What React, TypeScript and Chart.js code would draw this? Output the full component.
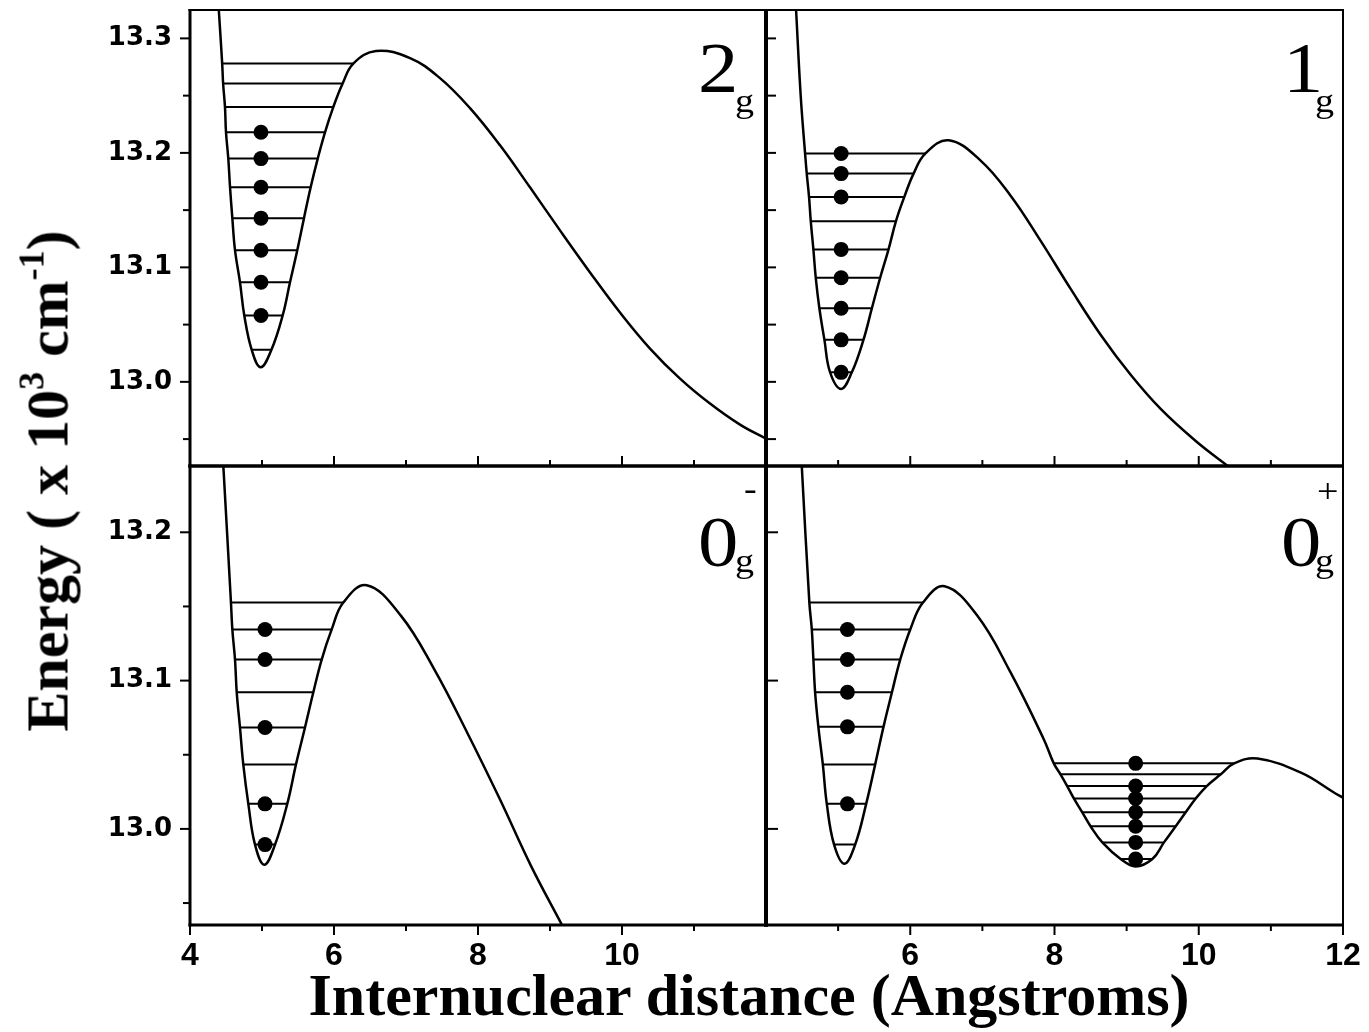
import React, { useEffect, useRef } from 'react';
import { Chart, registerables } from 'chart.js';

Chart.register(...registerables);

const PAGE_W = 1369;
const PAGE_H = 1032;

// ---------- axes ----------
const X_RANGE = [4, 12];
const Y_RANGE_TOP = [12.9265, 13.3248];
const Y_RANGE_BOTTOM = [12.9352, 13.2447];

const Y_TICKS_TOP = [13.0, 13.1, 13.2, 13.3];
const Y_TICKS_BOTTOM = [13.0, 13.1, 13.2];
const Y_MINOR_TOP = [12.95, 13.05, 13.15, 13.25];
const Y_MINOR_BOTTOM = [12.95, 13.05, 13.15];
const X_TICKS_LEFT = [4, 6, 8, 10];
const X_TICKS_RIGHT = [6, 8, 10, 12];
const X_MAJOR_INNER = [6, 8, 10];
const X_MINOR = [5, 7, 9, 11];

// ---------- panel 2g ----------
const CURVE_2G_X = [4.40, 4.447, 4.46, 4.486, 4.50, 4.532, 4.556, 4.588, 4.625, 4.694, 4.754, 4.857, 4.982, 5.131, 5.287, 5.389, 5.49, 5.583, 5.676, 5.774, 5.875, 5.99, 6.12, 6.268, 6.583, 7.056, 7.472, 7.889, 8.306, 8.722, 9.139, 9.556, 9.972, 10.389, 10.806, 11.222, 11.639, 12.0];
const CURVE_2G_Y = [13.3248, 13.278, 13.2606, 13.240, 13.218, 13.195, 13.170, 13.143, 13.115, 13.087, 13.058, 13.028, 13.0127, 13.028, 13.058, 13.087, 13.115, 13.143, 13.170, 13.195, 13.218, 13.240, 13.2606, 13.278, 13.289, 13.2828, 13.2653, 13.2391, 13.2066, 13.1699, 13.1323, 13.0956, 13.0606, 13.0291, 13.0028, 12.9810, 12.9626, 12.9503];
const LEVELS_2G_Y = [13.278, 13.2606, 13.240, 13.218, 13.195, 13.170, 13.143, 13.115, 13.087, 13.058, 13.028];
const LEVELS_2G_XL = [4.447, 4.46, 4.486, 4.50, 4.532, 4.556, 4.588, 4.625, 4.694, 4.754, 4.857];
const LEVELS_2G_XR = [6.268, 6.12, 5.99, 5.875, 5.774, 5.676, 5.583, 5.49, 5.389, 5.287, 5.131];
const DOTS_2G_X = [4.986, 4.986, 4.986, 4.986, 4.986, 4.986, 4.986];
const DOTS_2G_Y = [13.218, 13.195, 13.170, 13.143, 13.115, 13.087, 13.058];

// ---------- panel 1g ----------
const CURVE_1G_X = [4.417, 4.482, 4.542, 4.565, 4.597, 4.621, 4.657, 4.69, 4.74, 4.81, 4.889, 5.042, 5.19, 5.351, 5.468, 5.583, 5.699, 5.801, 5.917, 6.046, 6.208, 6.532, 6.972, 7.389, 7.806, 8.222, 8.639, 9.056, 9.472, 9.958, 10.417];
const CURVE_1G_Y = [13.3248, 13.249, 13.1994, 13.1819, 13.1614, 13.1402, 13.1157, 13.0909, 13.0643, 13.0367, 13.0083, 12.9938, 13.0083, 13.0367, 13.0643, 13.0909, 13.1157, 13.1402, 13.1614, 13.1819, 13.1994, 13.211, 13.1935, 13.1628, 13.1234, 13.0814, 13.0412, 13.0062, 12.9764, 12.9484, 12.9258];
const LEVELS_1G_Y = [13.1994, 13.1819, 13.1614, 13.1402, 13.1157, 13.0909, 13.0643, 13.0367, 13.0083];
const LEVELS_1G_XL = [4.542, 4.565, 4.597, 4.621, 4.657, 4.69, 4.74, 4.81, 4.889];
const LEVELS_1G_XR = [6.208, 6.046, 5.917, 5.801, 5.699, 5.583, 5.468, 5.351, 5.19];
const DOTS_1G_X = [5.042, 5.042, 5.042, 5.042, 5.042, 5.042, 5.042, 5.042];
const DOTS_1G_Y = [13.1994, 13.1819, 13.1614, 13.1157, 13.0909, 13.0643, 13.0367, 13.0083];

// ---------- panel 0g- ----------
const CURVE_0GM_X = [4.463, 4.569, 4.588, 4.625, 4.649, 4.694, 4.74, 4.81, 4.903, 5.032, 5.181, 5.351, 5.472, 5.597, 5.713, 5.829, 5.968, 6.129, 6.454, 6.926, 7.389, 7.847, 8.306, 8.736, 9.167];
const CURVE_0GM_Y = [13.2447, 13.1526, 13.1345, 13.1142, 13.0921, 13.0684, 13.0435, 13.0169, 12.9894, 12.9758, 12.9894, 13.0169, 13.0435, 13.0684, 13.0921, 13.1142, 13.1345, 13.1526, 13.1643, 13.144, 13.1079, 13.0652, 13.0198, 12.9751, 12.9352];
const LEVELS_0GM_Y = [13.1526, 13.1345, 13.1142, 13.0921, 13.0684, 13.0435, 13.0169, 12.9894];
const LEVELS_0GM_XL = [4.569, 4.588, 4.625, 4.649, 4.694, 4.74, 4.81, 4.903];
const LEVELS_0GM_XR = [6.129, 5.968, 5.829, 5.713, 5.597, 5.472, 5.351, 5.181];
const DOTS_0GM_X = [5.042, 5.042, 5.042, 5.042, 5.042];
const DOTS_0GM_Y = [13.1345, 13.1142, 13.0684, 13.0169, 12.9894];

// ---------- panel 0g+ ----------
const CURVE_0GP_X = [4.496, 4.601, 4.635, 4.657, 4.681, 4.726, 4.788, 4.843, 4.944, 5.0875, 5.236, 5.389, 5.514, 5.629, 5.746, 5.861, 6.0, 6.176, 6.476, 6.926, 7.389, 7.851, 7.99, 8.083, 8.176, 8.268, 8.385, 8.5, 8.663, 8.917, 9.125, 9.357, 9.518, 9.681, 9.819, 9.958, 10.111, 10.306, 10.49, 10.815, 11.417, 11.879, 12.0];
const CURVE_0GP_Y = [13.2447, 13.1526, 13.1345, 13.1142, 13.0921, 13.0688, 13.0435, 13.0169, 12.9894, 12.9765, 12.9894, 13.0169, 13.0435, 13.0688, 13.0921, 13.1142, 13.1345, 13.1526, 13.1636, 13.144, 13.1057, 13.0605, 13.0442, 13.0368, 13.0289, 13.0205, 13.0112, 13.0018, 12.9909, 12.9797, 12.9747, 12.9797, 12.9909, 13.0018, 13.0112, 13.0205, 13.0289, 13.0368, 13.0442, 13.0474, 13.0379, 13.0244, 13.021];
const LEVELS_0GP_Y = [13.1526, 13.1345, 13.1142, 13.0921, 13.0688, 13.0435, 13.0169, 12.9894];
const LEVELS_0GP_XL = [4.601, 4.635, 4.657, 4.681, 4.726, 4.788, 4.843, 4.944];
const LEVELS_0GP_XR = [6.176, 6.0, 5.861, 5.746, 5.629, 5.514, 5.389, 5.236];
const DOTS_0GP_X = [5.129, 5.129, 5.129, 5.129, 5.129];
const DOTS_0GP_Y = [13.1345, 13.1142, 13.0921, 13.0688, 13.0169];
const LEVELS_0GP2_Y = [13.0442, 13.0368, 13.0289, 13.0205, 13.0112, 13.0018, 12.9909, 12.9797];
const LEVELS_0GP2_XL = [7.99, 8.083, 8.176, 8.268, 8.385, 8.5, 8.663, 8.917];
const LEVELS_0GP2_XR = [10.49, 10.306, 10.111, 9.958, 9.819, 9.681, 9.518, 9.357];
const DOTS_0GP2_X = [9.125, 9.125, 9.125, 9.125, 9.125, 9.125, 9.125];
const DOTS_0GP2_Y = [13.0442, 13.0289, 13.0205, 13.0112, 13.0018, 12.9909, 12.9797];

// ---------- layout ----------
type Area = { left: number; top: number; right: number; bottom: number };
type TickSpec = { side: 'left' | 'bottom'; dir: 'in' | 'out'; values: number[]; len: number };
type LevelSet = { y: number[]; xl: number[]; xr: number[] };
type DotSet = { x: number[]; y: number[] };
type PanelSpec = {
  area: Area;
  yRange: number[];
  yTicks?: number[];
  xTicks?: number[];
  edges: { left: number; right: number; top: number; bottom: number };
  ticks: TickSpec[];
  curveX: number[];
  curveY: number[];
  levels: LevelSet[];
  dots: DotSet[];
};

const X_AXIS_H = 60;
const COL_L = 190, COL_M = 766, COL_R = 1343;
const ROW_T = 10, ROW_M = 466, ROW_B = 925;

const PANELS: PanelSpec[] = [
  {
    area: { left: COL_L, top: ROW_T, right: COL_M, bottom: ROW_M },
    yRange: Y_RANGE_TOP, yTicks: Y_TICKS_TOP,
    edges: { left: 3, right: 4, top: 2, bottom: 3 },
    ticks: [
      { side: 'left', dir: 'out', values: Y_TICKS_TOP, len: 10 },
      { side: 'left', dir: 'out', values: Y_MINOR_TOP, len: 7 },
      { side: 'bottom', dir: 'in', values: X_MAJOR_INNER, len: 10 },
      { side: 'bottom', dir: 'in', values: X_MINOR, len: 6 },
    ],
    curveX: CURVE_2G_X, curveY: CURVE_2G_Y,
    levels: [{ y: LEVELS_2G_Y, xl: LEVELS_2G_XL, xr: LEVELS_2G_XR }],
    dots: [{ x: DOTS_2G_X, y: DOTS_2G_Y }],
  },
  {
    area: { left: COL_M, top: ROW_T, right: COL_R, bottom: ROW_M },
    yRange: Y_RANGE_TOP,
    edges: { left: 4, right: 2, top: 2, bottom: 3 },
    ticks: [
      { side: 'left', dir: 'in', values: Y_TICKS_TOP, len: 10 },
      { side: 'left', dir: 'in', values: Y_MINOR_TOP, len: 10 },
      { side: 'bottom', dir: 'in', values: X_MAJOR_INNER, len: 10 },
      { side: 'bottom', dir: 'in', values: X_MINOR, len: 6 },
    ],
    curveX: CURVE_1G_X, curveY: CURVE_1G_Y,
    levels: [{ y: LEVELS_1G_Y, xl: LEVELS_1G_XL, xr: LEVELS_1G_XR }],
    dots: [{ x: DOTS_1G_X, y: DOTS_1G_Y }],
  },
  {
    area: { left: COL_L, top: ROW_M, right: COL_M, bottom: ROW_B },
    yRange: Y_RANGE_BOTTOM, yTicks: Y_TICKS_BOTTOM, xTicks: X_TICKS_LEFT,
    edges: { left: 3, right: 4, top: 3, bottom: 3 },
    ticks: [
      { side: 'left', dir: 'out', values: Y_TICKS_BOTTOM, len: 10 },
      { side: 'left', dir: 'out', values: Y_MINOR_BOTTOM, len: 7 },
      { side: 'bottom', dir: 'out', values: X_TICKS_LEFT, len: 10 },
      { side: 'bottom', dir: 'out', values: X_MINOR, len: 6 },
    ],
    curveX: CURVE_0GM_X, curveY: CURVE_0GM_Y,
    levels: [{ y: LEVELS_0GM_Y, xl: LEVELS_0GM_XL, xr: LEVELS_0GM_XR }],
    dots: [{ x: DOTS_0GM_X, y: DOTS_0GM_Y }],
  },
  {
    area: { left: COL_M, top: ROW_M, right: COL_R, bottom: ROW_B },
    yRange: Y_RANGE_BOTTOM, xTicks: X_TICKS_RIGHT,
    edges: { left: 4, right: 2, top: 3, bottom: 3 },
    ticks: [
      { side: 'left', dir: 'in', values: Y_TICKS_BOTTOM, len: 12 },
      { side: 'bottom', dir: 'out', values: X_TICKS_RIGHT, len: 10 },
      { side: 'bottom', dir: 'out', values: X_MINOR, len: 6 },
    ],
    curveX: CURVE_0GP_X, curveY: CURVE_0GP_Y,
    levels: [
      { y: LEVELS_0GP_Y, xl: LEVELS_0GP_XL, xr: LEVELS_0GP_XR },
      { y: LEVELS_0GP2_Y, xl: LEVELS_0GP2_XL, xr: LEVELS_0GP2_XR },
    ],
    dots: [
      { x: DOTS_0GP_X, y: DOTS_0GP_Y },
      { x: DOTS_0GP2_X, y: DOTS_0GP2_Y },
    ],
  },
];

function makeFramePlugin(p: PanelSpec) {
  return {
    id: 'frame',
    afterDatasetsDraw(chart: any) {
      const { ctx, chartArea: a, scales } = chart;
      const xs = scales.x, ys = scales.y;
      ctx.save();
      ctx.strokeStyle = '#000';
      ctx.lineCap = 'butt';
      const e = p.edges;
      const line = (x1: number, y1: number, x2: number, y2: number, w: number) => {
        if (!w) return;
        ctx.lineWidth = w;
        ctx.beginPath();
        ctx.moveTo(x1, y1);
        ctx.lineTo(x2, y2);
        ctx.stroke();
      };
      line(a.left, a.top - e.top / 2, a.left, a.bottom + e.bottom / 2, e.left);
      line(a.right, a.top - e.top / 2, a.right, a.bottom + e.bottom / 2, e.right);
      line(a.left - e.left / 2, a.top, a.right + e.right / 2, a.top, e.top);
      line(a.left - e.left / 2, a.bottom, a.right + e.right / 2, a.bottom, e.bottom);
      for (const t of p.ticks) {
        for (const v of t.values) {
          if (t.side === 'left') {
            const py = ys.getPixelForValue(v);
            if (t.dir === 'out') line(a.left - t.len, py, a.left, py, 2);
            else line(a.left, py, a.left + t.len, py, 2);
          } else {
            const px = xs.getPixelForValue(v);
            if (t.dir === 'out') line(px, a.bottom, px, a.bottom + t.len, 2);
            else line(px, a.bottom, px, a.bottom - t.len, 2);
          }
        }
      }
      ctx.restore();
    },
  };
}

function buildConfig(p: PanelSpec): any {
  const showY = !!p.yTicks;
  const showX = !!p.xTicks;
  const datasets: any[] = [];
  p.dots.forEach((d) => {
    datasets.push({
      type: 'line',
      data: d.x.map((x, i) => ({ x, y: d.y[i] })),
      showLine: false,
      pointRadius: 7.5,
      pointHoverRadius: 7.5,
      pointBorderWidth: 0,
      pointBackgroundColor: '#000',
      borderColor: '#000',
      backgroundColor: '#000',
    });
  });
  p.levels.forEach((l) => {
    const data: any[] = [];
    l.y.forEach((y, i) => {
      data.push({ x: l.xl[i], y }, { x: l.xr[i], y }, { x: l.xr[i], y: null });
    });
    datasets.push({
      type: 'line',
      data,
      borderColor: '#000',
      borderWidth: 2,
      pointRadius: 0,
      tension: 0,
      spanGaps: false,
      fill: false,
    });
  });
  datasets.push({
    type: 'line',
    data: p.curveX.map((x, i) => ({ x, y: p.curveY[i] })),
    borderColor: '#000',
    borderWidth: 2.5,
    pointRadius: 0,
    tension: 0.4,
    fill: false,
  });

  const noPad = (s: any) => {
    s.paddingTop = 0;
    s.paddingBottom = 0;
    s.paddingLeft = 0;
    s.paddingRight = 0;
  };

  return {
    type: 'line',
    data: { datasets },
    options: {
      animation: false,
      responsive: false,
      devicePixelRatio: 1,
      events: [],
      layout: {
        padding: {
          left: showY ? 0 : p.area.left,
          top: p.area.top,
          right: PAGE_W - p.area.right,
          bottom: PAGE_H - p.area.bottom - (showX ? X_AXIS_H : 0),
        },
      },
      plugins: { legend: { display: false }, tooltip: { enabled: false }, title: { display: false } },
      scales: {
        x: {
          type: 'linear',
          min: X_RANGE[0],
          max: X_RANGE[1],
          display: showX,
          grid: { display: false, drawTicks: false },
          border: { display: false },
          afterBuildTicks: (s: any) => {
            s.ticks = (p.xTicks || []).map((v) => ({ value: v }));
          },
          afterFit: (s: any) => {
            s.height = showX ? X_AXIS_H : 0;
            noPad(s);
          },
          ticks: {
            padding: 12,
            color: '#000',
            maxRotation: 0,
            autoSkip: false,
            font: { family: "'Liberation Sans Narrow', 'Liberation Sans', sans-serif", weight: 'bold', size: 32 },
            callback: (v: any) => String(v),
          },
        },
        y: {
          type: 'linear',
          min: p.yRange[0],
          max: p.yRange[1],
          display: showY,
          grid: { display: false, drawTicks: false },
          border: { display: false },
          afterBuildTicks: (s: any) => {
            s.ticks = (p.yTicks || []).map((v) => ({ value: v }));
          },
          afterFit: (s: any) => {
            s.width = showY ? p.area.left : 0;
            noPad(s);
          },
          ticks: {
            padding: 18,
            color: '#000',
            autoSkip: false,
            font: { family: "'DejaVu Sans', sans-serif", weight: 'bold', size: 26 },
            callback: (v: any) => Number(v).toFixed(1),
          },
        },
      },
    },
    plugins: [makeFramePlugin(p)],
  };
}

function Panel({ spec }: { spec: PanelSpec }) {
  const ref = useRef<HTMLCanvasElement>(null);
  useEffect(() => {
    const canvas = ref.current;
    if (!canvas) return;
    const chart = new Chart(canvas, buildConfig(spec));
    return () => chart.destroy();
  }, [spec]);
  return (
    <canvas
      ref={ref}
      width={PAGE_W}
      height={PAGE_H}
      style={{ position: 'absolute', left: 0, top: 0, width: PAGE_W, height: PAGE_H }}
    />
  );
}

const SERIF = "'Liberation Serif', 'Times New Roman', serif";

function Glyph({ text, left, top, size }: { text: string; left: number; top: number; size: number }) {
  return (
    <span
      style={{
        position: 'absolute',
        left,
        top,
        fontFamily: SERIF,
        fontSize: size,
        lineHeight: `${size}px`,
        color: '#000',
        whiteSpace: 'nowrap',
        transform: 'scaleX(1.12)',
        transformOrigin: 'left top',
      }}
    >
      {text}
    </span>
  );
}

export default function App() {
  return (
    <div
      style={{
        position: 'fixed',
        left: 0,
        top: 0,
        width: PAGE_W,
        height: PAGE_H,
        background: '#fff',
        overflow: 'hidden',
      }}
    >
      {PANELS.map((p, i) => (
        <Panel key={i} spec={p} />
      ))}

      {/* panel labels */}
      <Glyph text="2" left={698} top={32} size={72} />
      <Glyph text="g" left={735} top={84} size={34} />
      <Glyph text="1" left={1283} top={32} size={72} />
      <Glyph text="g" left={1315} top={84} size={34} />
      <Glyph text="0" left={698} top={506} size={72} />
      <Glyph text="-" left={744} top={472} size={34} />
      <Glyph text="g" left={735} top={544} size={34} />
      <Glyph text="0" left={1281} top={506} size={72} />
      <Glyph text="+" left={1317} top={474} size={34} />
      <Glyph text="g" left={1315} top={544} size={34} />

      {/* axis titles */}
      <div
        style={{
          position: 'absolute',
          left: 749,
          top: 961,
          transform: 'translateX(-50%)',
          fontFamily: SERIF,
          fontWeight: 'bold',
          fontSize: 60,
          lineHeight: '69px',
          whiteSpace: 'nowrap',
          color: '#000',
        }}
      >
        Internuclear distance (Angstroms)
      </div>
      <div
        style={{
          position: 'absolute',
          left: 52,
          top: 481,
          transform: 'translate(-50%, -50%) rotate(-90deg)',
          fontFamily: SERIF,
          fontWeight: 'bold',
          fontSize: 60,
          lineHeight: '69px',
          whiteSpace: 'nowrap',
          color: '#000',
        }}
      >
        Energy ( x 10
        <span style={{ fontSize: 36, position: 'relative', top: -24 }}>3</span> cm
        <span style={{ fontSize: 36, position: 'relative', top: -24 }}>-1</span>)
      </div>
    </div>
  );
}
